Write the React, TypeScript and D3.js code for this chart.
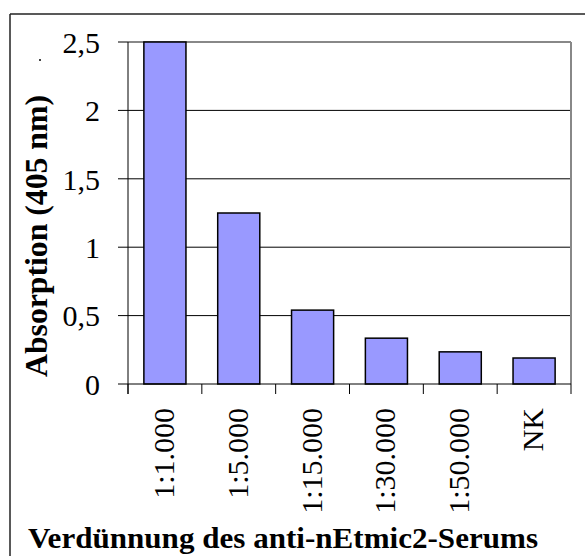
import React from "react";
import * as d3 from "d3";

const categories = ["1:1.000", "1:5.000", "1:15.000", "1:30.000", "1:50.000", "NK"];
const values = [2.5, 1.25, 0.54, 0.335, 0.235, 0.19];
const yTicks = [0, 0.5, 1, 1.5, 2, 2.5];
const yTickLabels = ["0", "0,5", "1", "1,5", "2", "2,5"];
const yTitle = "Absorption (405 nm)";
const xTitle = "Verdünnung des anti-nEtmic2-Serums";

const W = 585;
const H = 556;
const plot = { left: 128, right: 571, top: 42, bottom: 384 };
const font = "'Liberation Serif', 'Times New Roman', Times, serif";

export default function App() {
  const x = d3
    .scaleBand<string>()
    .domain(categories)
    .range([plot.left, plot.right])
    .paddingInner(0.43)
    .paddingOuter(0.215);
  const y = d3.scaleLinear().domain([0, 2.5]).range([plot.bottom, plot.top]);
  const step = x.step();
  const boundaries = d3.range(categories.length + 1).map((i) => plot.left + i * step);

  return (
    <div style={{ position: "fixed", left: 0, top: 0 }}>
      <svg width={W} height={H} style={{ display: "block", background: "#fff" }}>
        {/* outer frame */}
        <line x1={10} y1={14} x2={W + 2} y2={14} stroke="#222" strokeWidth={1.5} />
        <line x1={10} y1={14} x2={10} y2={H + 2} stroke="#222" strokeWidth={1.5} />
        <rect x={39} y={59} width={2} height={2} fill="#444" />

        {/* gridlines */}
        {yTicks.slice(1, -1).map((t) => (
          <line key={t} x1={plot.left} x2={plot.right} y1={y(t)} y2={y(t)} stroke="#000" strokeWidth={1} />
        ))}
        {/* plot border top & right (gray) */}
        <line x1={plot.left} x2={plot.right} y1={y(2.5)} y2={y(2.5)} stroke="#888" strokeWidth={2} />
        <line x1={plot.right} x2={plot.right} y1={plot.top} y2={plot.bottom} stroke="#888" strokeWidth={2} />

        {/* bars */}
        {categories.map((c, i) => (
          <rect
            key={c}
            x={x(c)}
            y={y(values[i])}
            width={x.bandwidth()}
            height={y(0) - y(values[i])}
            fill="#9999FF"
            stroke="#000"
            strokeWidth={1.5}
          />
        ))}

        {/* y axis */}
        <line x1={plot.left} x2={plot.left} y1={plot.top} y2={plot.bottom + 10} stroke="#000" strokeWidth={1} />
        {yTicks.map((t, i) => (
          <g key={t}>
            <line x1={plot.left - 10} x2={plot.left} y1={y(t)} y2={y(t)} stroke="#000" strokeWidth={1} />
            <text
              x={100}
              y={y(t)}
              dy="0.36em"
              textAnchor="end"
              fontFamily={font}
              fontSize={30}
              fill="#000"
            >
              {yTickLabels[i]}
            </text>
          </g>
        ))}

        {/* x axis */}
        <line x1={plot.left} x2={plot.right} y1={plot.bottom} y2={plot.bottom} stroke="#000" strokeWidth={1} />
        {boundaries.map((bx, i) => (
          <line key={i} x1={bx} x2={bx} y1={plot.bottom} y2={plot.bottom + 10} stroke="#000" strokeWidth={1} />
        ))}
        {categories.map((c) => (
          <text
            key={c}
            transform={`translate(${(x(c) as number) + x.bandwidth() / 2},408) rotate(-90)`}
            dy="0.3em"
            textAnchor="end"
            fontFamily={font}
            fontSize={30}
            fill="#000"
          >
            {c}
          </text>
        ))}

        {/* titles */}
        <text
          transform={`translate(47,236) rotate(-90)`}
          textAnchor="middle"
          fontFamily={font}
          fontWeight="bold"
          fontSize={32}
          textLength={282}
          lengthAdjust="spacingAndGlyphs"
          fill="#000"
        >
          {yTitle}
        </text>
        <text
          x={28}
          y={548}
          fontFamily={font}
          fontWeight="bold"
          fontSize={29}
          textLength={510}
          lengthAdjust="spacingAndGlyphs"
          fill="#000"
        >
          {xTitle}
        </text>
      </svg>
    </div>
  );
}
